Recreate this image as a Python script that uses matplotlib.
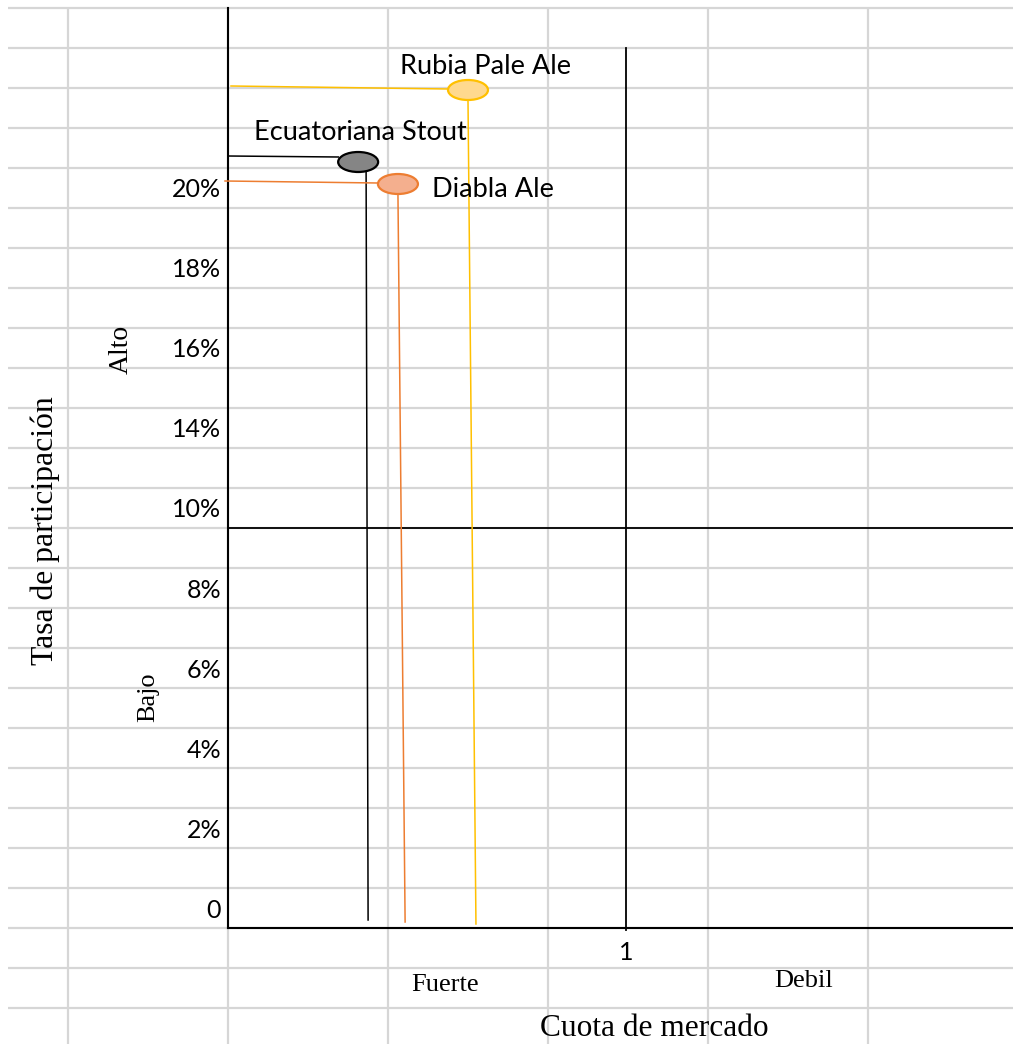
import matplotlib
matplotlib.use("Agg")
import matplotlib.pyplot as plt
from matplotlib.patches import Ellipse

# ---- data ----
products = ["Rubia Pale Ale", "Ecuatoriana Stout", "Diabla Ale"]
share = [0.603, 0.327, 0.427]          # relative market share (ellipse centre)
growth = [20.95, 19.15, 18.6]          # growth-rate position (chart units)
leader_share_top = [0.603, 0.347, 0.427]
leader_share_base = [0.623, 0.352, 0.445]
leader_base_growth = [0.10, 0.20, 0.15]
leader_start_share = [0.0075, 0.0, -0.0075]
leader_start_growth = [21.05, 19.30, 18.675]
leader_end_growth = [20.975, 19.275, 18.625]
label_share = [0.432, 0.065, 0.513]
label_growth = [21.525, 19.875, 18.45]
edge_colors = ["#FFC000", "#000000", "#ED7D31"]
fill_colors = ["#FFD98E", "#858585", "#F4AF8E"]

ytick_labels = ["0", "2%", "4%", "6%", "8%", "10%", "14%", "16%", "18%", "20%"]
quadrant_share = 1.0
quadrant_growth = 10.0

# ---- layout ----
W, H = 1013, 1044
fig = plt.figure(figsize=(W / 100, H / 100), dpi=100)
ax = fig.add_axes([0, 0, 1, 1])
PX_X = 398.0  # px per share unit
PX_Y = 40.0   # px per growth unit
ax.set_xlim(-228 / PX_X, (W - 228) / PX_X)
ax.set_ylim(-(H - 928) / PX_Y, 928 / PX_Y)
ax.axis("off")

sans = ["Lato", "DejaVu Sans"]
serif = ["Liberation Serif", "DejaVu Serif"]

# spreadsheet grid
grid_c = "#D6D6D6"
cell_w = 160 / PX_X
x_left = -220 / PX_X
x_right = (W - 228) / PX_X
y_top = 23.0
y_bot = -(H - 928) / PX_Y
for k in range(-2, 24):
    ax.plot([x_left, x_right], [k, k], color=grid_c, lw=1.6, zorder=1,
            solid_capstyle="butt")
for k in range(-1, 7):
    x = k * cell_w
    ax.plot([x, x], [y_bot, y_top], color=grid_c, lw=1.6, zorder=1,
            solid_capstyle="butt")

# axes and quadrant lines
ax.plot([0, 0], [0, y_top], color="black", lw=1.5, zorder=3)
ax.plot([0, x_right], [0, 0], color="black", lw=1.5, zorder=3)
ax.plot([0, x_right], [quadrant_growth, quadrant_growth], color="black", lw=1.3, zorder=3)
ax.plot([quadrant_share, quadrant_share], [-0.05, 22.0], color="black", lw=1.3, zorder=3)

# products
for i, name in enumerate(products):
    c = edge_colors[i]
    ax.plot([leader_start_share[i], share[i] - 0.05],
            [leader_start_growth[i], leader_end_growth[i]], color=c, lw=1.1, zorder=4)
    ax.plot([leader_share_top[i], leader_share_base[i]],
            [growth[i] - 0.25, leader_base_growth[i]], color=c, lw=1.1, zorder=4)
    e = Ellipse((share[i], growth[i]), width=40 / PX_X, height=20 / PX_Y,
                facecolor=fill_colors[i], edgecolor=c, lw=1.6, zorder=5)
    ax.add_patch(e)
    ax.text(label_share[i], label_growth[i], name, family=sans, fontsize=19.5,
            ha="left", va="center", zorder=6)

# y tick labels (evenly spaced, as in the reference)
for i, lab in enumerate(ytick_labels):
    ax.text(-7 / PX_X, 2 * i + 0.45, lab, family=sans, fontsize=18,
            ha="right", va="center", zorder=6)
ax.text(quadrant_share, -0.6, "1", family=sans, fontsize=18,
        ha="center", va="center", zorder=6)

# serif annotations
ax.text(-183 / PX_X, 9.925, "Tasa de participación", family=serif, fontsize=22.8,
        rotation=90, ha="center", va="center")
ax.text(-107 / PX_X, 14.475, "Alto", family=serif, fontsize=20,
        rotation=90, ha="center", va="center")
ax.text(-80 / PX_X, 5.775, "Bajo", family=serif, fontsize=19,
        rotation=90, ha="center", va="center")
ax.text(217 / PX_X, -1.425, "Fuerte", family=serif, fontsize=19,
        ha="center", va="center")
ax.text(576 / PX_X, -1.325, "Debil", family=serif, fontsize=19,
        ha="center", va="center")
ax.text(426 / PX_X, -2.5, "Cuota de mercado", family=serif, fontsize=22.6,
        ha="center", va="center")

fig.savefig("out.png", dpi=100, facecolor="white")
